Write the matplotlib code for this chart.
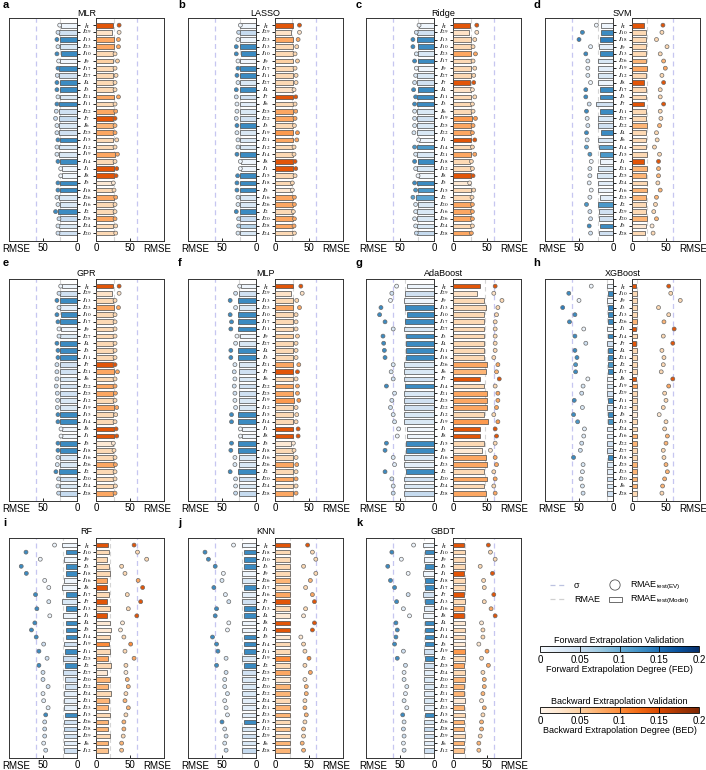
import numpy as np
import matplotlib
matplotlib.use("Agg")
import matplotlib.pyplot as plt
from matplotlib.colors import Normalize
from matplotlib.colorbar import ColorbarBase
from matplotlib.patches import Rectangle

plt.rcParams['font.family'] = ['Liberation Sans', 'DejaVu Sans']
plt.rcParams['mathtext.fontset'] = 'stix'

# ---- data: per model, feature order (top to bottom), left = forward, right = backward
mlr_feat = ['h', '29', '13', '23', '10', '9', '17', '27', '4', '3', '21', '11', '22', '7', '6',
            '25', '15', '12', '19', '14', '1', '8', '5', '18', '26', '16', '2', '28', '24', '20']
mlr_lbar = [23, 26.5, 25.5, 25.5, 24, 24.5, 26.5, 26.5, 25.5, 25.5, 24.5, 26.5, 26.5, 26.5, 26.5,
            26.5, 25.5, 26.5, 26.5, 25.5, 21.5, 21.5, 24.5, 24.5, 26.5, 25.5, 28, 25.5, 26.5, 26.5]
mlr_ldot = [25.5, 28, 29.5, 28, 29.5, 27, 28, 29, 29.5, 29.5, 28, 29.5, 30.5, 31.5, 29.5,
            29.5, 28, 29.5, 29.5, 28, 24, 24, 28, 28, 29.5, 28, 31.5, 26.5, 28, 28]
mlr_lfed = [.01, .04, .13, .03, .13, .01, .13, .04, .13, .13, .03, .13, .04, .05, .03,
            .04, .13, .03, .03, .13, .01, .01, .13, .13, .03, .03, .13, .05, .03, .04]
mlr_rbar = [25.5, 23, 26.5, 26.5, 25.5, 25.5, 25.5, 25.5, 25.5, 25.5, 26.5, 25.5, 26.5, 25.5, 25.5,
            25.5, 25.5, 25.5, 28, 25.5, 26.5, 26.5, 24.5, 25.5, 26.5, 25.5, 25.5, 25.5, 25.5, 26.5]
mlr_rdot = [34, 34, 33, 33, 28, 31.5, 28, 29.5, 28, 28, 33, 28, 29, 28, 28,
            28, 30.5, 28, 31.5, 28, 30.5, 29.5, 25.5, 26.5, 29, 28, 28, 28, 29, 29]
mlr_rbed = [.14, .03, .08, .08, .04, .05, .04, .04, .04, .04, .08, .04, .08, .14, .07,
            .08, .04, .04, .08, .04, .14, .14, .02, .04, .08, .04, .04, .08, .04, .04]

lasso_feat = ['h', '29', '23', '13', '10', '9', '17', '11', '27', '4', '7', '6', '25', '22', '3',
              '19', '21', '12', '14', '8', '1', '15', '18', '5', '16', '26', '2', '20', '28', '24']
lasso_lbar = [23, 24, 24, 24, 22, 24, 24, 24, 24, 24, 24, 24, 24, 24, 24,
              24, 24, 24, 24, 21.5, 21.5, 24, 24, 24, 24, 24, 24, 24, 24, 24]
lasso_ldot = [23, 25.5, 26.5, 29, 29, 26.5, 26.5, 28, 26.5, 29, 29, 28, 28, 29, 28,
              28, 26.5, 26.5, 28, 23, 23, 27, 28, 28, 26.5, 26.5, 29, 25.5, 25.5, 26.5]
lasso_lfed = [.01, .05, .01, .13, .13, .01, .13, .13, .03, .13, .04, .02, .03, .04, .13,
              .03, .03, .03, .13, .01, .01, .13, .13, .13, .03, .03, .13, .05, .06, .03]
lasso_rbar = [26, 23, 26, 26, 26, 26, 26, 26, 26, 27, 26, 26, 26, 27, 26,
              27, 27, 26, 26, 26, 26, 27, 24.5, 24.5, 27, 27, 26, 27, 26, 27]
lasso_rdot = [36, 36, 34, 32, 29.5, 33, 29.5, 31, 31, 28, 30.5, 29.5, 30.5, 29.5, 28.5,
              33, 32, 28, 28, 29.5, 30.5, 29.5, 25.5, 25.5, 28.5, 28.5, 27, 28.5, 28, 28.5]
lasso_rbed = [.14, .03, .08, .04, .04, .05, .04, .04, .04, .03, .14, .04, .08, .08, .04,
              .09, .08, .04, .04, .14, .14, .04, .04, .02, .08, .08, .04, .08, .08, .04]

ridge_feat = ['h', '29', '13', '10', '23', '17', '9', '27', '7', '4', '11', '3', '6', '19', '25',
              '22', '1', '14', '21', '18', '12', '8', '5', '15', '2', '20', '16', '26', '24', '28']
ridge_lbar = [22, 24.5, 24.5, 23.5, 23.5, 23.5, 23.5, 24.5, 24.5, 23.5, 24.5, 24.5, 24.5, 24.5, 24.5,
              24.5, 22, 24.5, 24.5, 23.5, 24.5, 22, 24.5, 23.5, 26, 23.5, 24.5, 24.5, 24.5, 24.5]
ridge_ldot = [22, 26, 31, 31, 26, 28.5, 26, 27, 28.5, 30, 27, 28.5, 28.5, 28.5, 28.5,
              29.5, 22.5, 28.5, 27, 28.5, 27, 23.5, 28.5, 27, 31, 27, 27, 28.5, 27, 26]
ridge_lfed = [.01, .04, .13, .13, .03, .13, .01, .03, .04, .13, .13, .13, .03, .04, .03,
              .03, .01, .12, .03, .13, .03, .01, .13, .12, .11, .03, .03, .03, .03, .05]
ridge_rbar = [25.5, 23, 26, 26, 26, 26, 26, 26, 25.5, 27, 27, 26, 26, 28, 26,
              27, 27, 27, 27, 25.5, 27, 26, 24.5, 27, 26, 27, 27, 26, 27, 26]
ridge_rdot = [35, 35, 32, 29.5, 33, 29.5, 32, 30.5, 30.5, 28.5, 32, 28.5, 29.5, 33, 29.5,
              28.5, 32, 28.5, 32, 27, 28.5, 29.5, 24.5, 30.5, 28, 28.5, 28.5, 28.5, 28.5, 27]
ridge_rbed = [.14, .03, .04, .04, .08, .04, .04, .04, .14, .03, .04, .04, .04, .09, .08,
              .08, .14, .04, .08, .04, .04, .14, .02, .04, .04, .08, .08, .08, .04, .08]

svm_feat = ['h', '10', '18', '9', '13', '26', '19', '12', '8', '17', '3', '7', '11', '27', '22',
            '4', '6', '14', '15', '1', '21', '25', '24', '16', '23', '2', '29', '20', '5', '28']
svm_lbar = [17, 17, 18.5, 20.5, 18.5, 22, 22, 22, 22, 18.5, 18.5, 24.5, 18.5, 22, 22,
            17, 22, 20.5, 18.5, 19.5, 22, 23.5, 22, 22, 19.5, 22, 20.5, 20.5, 18.5, 20.5]
svm_ldot = [24.5, 45, 50, 33, 40, 37, 37, 37, 33, 40, 40, 35, 39, 38, 37,
            39, 38, 39, 34, 32, 34, 34, 35, 32, 34, 39, 34, 33, 35, 33]
svm_lfed = [.01, .13, .14, .02, .13, .03, .02, .03, .01, .13, .13, .04, .13, .03, .04,
            .13, .03, .11, .12, .01, .03, .03, .02, .01, .02, .12, .04, .04, .13, .04]
svm_rbar = [17, 21, 21, 21, 21, 21, 22, 21, 17, 21, 21, 17, 21, 21, 22,
            21, 21, 21, 22, 17, 22, 21, 22, 22, 21, 21, 21, 22, 21, 19.5]
svm_rdot = [45.5, 44, 36, 51.5, 41.5, 46.5, 49, 44, 46.5, 41.5, 41.5, 46.5, 41.5, 42.5, 40.5,
            36, 37, 33, 40.5, 39, 39, 39, 38, 41.5, 36, 34.5, 32, 36, 29.5, 31]
svm_rbed = [.14, .04, .04, .04, .04, .07, .08, .04, .14, .04, .04, .14, .04, .04, .07,
            .04, .04, .04, .04, .14, .07, .07, .04, .07, .07, .04, .04, .07, .02, .04]

gpr_feat = ['h', '29', '13', '23', '10', '17', '9', '27', '4', '3', '11', '7', '21', '6', '22',
            '25', '12', '19', '15', '14', '8', '1', '5', '18', '16', '26', '2', '20', '24', '28']
gpr_lbar = [22.5, 25, 24.5, 24.5, 24, 24.5, 24, 24.5, 24.5, 24.5, 24.5, 25, 25, 25, 25,
            25, 24.5, 25, 24.5, 24.5, 21.5, 21.5, 24.5, 24.5, 24.5, 25, 26.5, 25, 25, 25]
gpr_ldot = [24, 26.5, 29.5, 26.5, 29.5, 28, 26.5, 26.5, 29.5, 28, 28, 29.5, 29.5, 29.5, 30.5,
            29, 28.5, 29, 28, 28, 23.5, 23.5, 28, 28, 28, 29, 31, 27, 28, 27]
gpr_lfed = [.01, .04, .13, .02, .13, .13, .01, .03, .13, .13, .13, .04, .04, .03, .04,
            .04, .03, .03, .13, .13, .01, .01, .13, .13, .03, .03, .13, .04, .03, .05]
gpr_rbar = [25.5, 23, 25.5, 26.5, 25.5, 25.5, 25.5, 25.5, 25.5, 25.5, 25.5, 25.5, 26.5, 25.5, 25.5,
            25.5, 25.5, 27, 25.5, 25.5, 26.5, 26.5, 24.5, 25.5, 25.5, 26.5, 25.5, 25.5, 25.5, 25.5]
gpr_rdot = [34, 34, 28, 33, 28, 28, 28, 28, 28, 28, 28, 28, 31.5, 28, 28,
            28.5, 28, 30.5, 29, 28, 29.5, 30.5, 25.5, 26.5, 28, 28.5, 28, 28, 28.5, 28]
gpr_rbed = [.14, .03, .04, .08, .04, .04, .04, .04, .04, .04, .04, .14, .08, .04, .08,
            .08, .04, .08, .04, .04, .14, .14, .02, .04, .04, .08, .04, .04, .04, .08]

mlp_feat = ['h', '29', '13', '23', '10', '17', '11', '9', '27', '4', '3', '21', '7', '6', '22',
            '25', '19', '12', '15', '14', '1', '8', '5', '18', '16', '26', '2', '20', '24', '28']
mlp_lbar = [22, 25, 26, 25, 26, 26, 26, 24, 25, 26, 26, 25, 25, 25, 25,
            25, 25, 25, 26, 26, 21, 21, 26, 26, 25, 25, 27, 25, 25, 25]
mlp_ldot = [24, 30, 38, 30, 38, 36, 37, 28, 30, 37, 37, 31, 32, 31, 32,
            31, 31, 30, 36, 36, 23, 23, 36, 37, 31, 31, 38, 30, 30, 30]
mlp_lfed = [.01, .04, .13, .03, .13, .13, .13, .01, .03, .13, .13, .03, .04, .03, .04,
            .04, .03, .03, .13, .13, .01, .01, .13, .13, .03, .03, .13, .04, .03, .05]
mlp_rbar = [26, 23, 26, 27, 26, 26, 26, 26, 26, 26, 26, 27, 26, 26, 27,
            27, 28, 26, 26, 26, 27, 27, 24, 26, 26, 27, 26, 26, 26, 26]
mlp_rdot = [38, 40, 32, 36, 31, 31, 31, 33, 31, 31, 31, 35, 33, 31, 33,
            33, 35, 31, 32, 31, 34, 34, 27, 28, 31, 32, 31, 31, 31, 31]
mlp_rbed = [.14, .03, .04, .08, .04, .04, .04, .05, .04, .04, .04, .08, .14, .04, .08,
            .08, .09, .04, .04, .04, .14, .14, .02, .04, .04, .08, .04, .08, .04, .08]

ada_feat = ['h', '29', '9', '13', '10', '17', '27', '3', '4', '11', '18', '26', '6', '7', '14',
            '21', '25', '22', '12', '19', '1', '8', '15', '5', '16', '23', '2', '20', '24', '28']
ada_lbar = [40, 43, 44, 42, 40, 42, 44, 41, 41, 41, 41, 44, 44, 44, 42,
            44, 44, 44, 44, 44, 40, 40, 41, 41, 44, 44, 41, 44, 44, 44]
ada_ldot = [55, 62, 64, 78, 80, 72, 60, 75, 74, 73, 72, 60, 63, 60, 70,
            58, 62, 64, 60, 58, 52, 54, 70, 72, 60, 58, 72, 62, 60, 60]
ada_lfed = [.01, .04, .01, .13, .13, .13, .03, .13, .13, .13, .13, .03, .03, .04, .13,
            .03, .04, .04, .03, .03, .01, .01, .13, .13, .03, .02, .13, .04, .03, .05]
ada_rbar = [40, 35, 45, 48, 46, 46, 46, 46, 46, 46, 45, 50, 48, 40, 46,
            50, 50, 50, 46, 52, 40, 40, 46, 42, 48, 50, 46, 50, 46, 48]
ada_rdot = [62, 60, 72, 66, 64, 62, 62, 62, 62, 62, 60, 66, 64, 68, 62,
            66, 66, 64, 60, 66, 62, 64, 62, 55, 62, 64, 60, 62, 60, 62]
ada_rbed = [.14, .03, .04, .04, .04, .04, .04, .04, .04, .04, .04, .08, .07, .14, .04,
            .08, .08, .08, .04, .09, .14, .14, .04, .02, .08, .08, .04, .08, .04, .08]

xgb_feat = ['h', '10', '9', '3', '13', '26', '1', '14', '7', '4', '21', '2', '17', '8', '19',
            '29', '11', '12', '5', '15', '24', '16', '22', '27', '18', '25', '23', '20', '6', '28']
xgb_lbar = [9, 7, 9, 7, 7, 7, 9, 7, 9, 7, 7, 8, 7, 9, 9,
            9, 7, 9, 7, 7, 9, 9, 9, 9, 7, 9, 9, 9, 9, 9]
xgb_ldot = [32, 65, 50, 74, 56, 64, 43, 56, 40, 56, 53, 55, 55, 37, 44,
            46, 57, 45, 58, 52, 42, 43, 46, 48, 58, 44, 45, 47, 45, 44]
xgb_lfed = [.01, .13, .01, .14, .13, .13, .01, .13, .04, .13, .13, .12, .13, .01, .03,
            .04, .13, .03, .13, .12, .02, .02, .04, .04, .13, .03, .02, .04, .03, .04]
xgb_rbar = [6.5, 7, 7, 7, 7, 7, 6.5, 7, 6.5, 7, 7, 7, 7, 6.5, 7,
            7, 7, 7, 7, 7, 7, 7, 7, 7, 7, 7, 7, 7, 7, 7]
xgb_rdot = [54, 57, 71, 39, 54, 47, 62, 46, 60, 44, 47, 46, 43, 60, 54,
            48, 50, 46, 40, 50, 48, 52, 50, 46, 47, 50, 52, 48, 45, 44]
xgb_rbed = [.14, .04, .04, .04, .04, .07, .14, .04, .14, .04, .04, .04, .04, .14, .08,
            .04, .04, .04, .02, .04, .04, .07, .07, .04, .04, .07, .07, .07, .07, .04]

rf_feat = ['h', '10', '9', '3', '18', '16', '8', '17', '7', '13', '1', '4', '5', '14', '19',
           '11', '25', '2', '27', '20', '22', '24', '21', '23', '15', '26', '28', '29', '6', '12']
rf_lbar = [21.5, 16.5, 19.5, 16.5, 16.5, 19.5, 21.5, 16.5, 21.5, 16.5, 20.5, 16.5, 16.5, 16.5, 19.5,
           18, 20.5, 18, 20.5, 18, 18, 19.5, 19.5, 19.5, 18, 19.5, 19.5, 19.5, 19.5, 19.5]
rf_ldot = [33, 75, 54, 82, 74.5, 47.5, 41.5, 61, 41.5, 59, 40, 62, 67, 60, 49,
           56, 44, 56, 50, 50, 42.5, 50, 49, 42.5, 46, 47.5, 47.5, 47.5, 49, 46]
rf_lfed = [.01, .13, .01, .13, .13, .01, .01, .13, .03, .13, .01, .13, .13, .13, .04,
           .13, .04, .13, .04, .04, .04, .02, .02, .02, .13, .04, .05, .04, .02, .04]
rf_rbar = [18, 19.5, 16.5, 19.5, 20.5, 16.5, 16.5, 19.5, 16.5, 20.5, 16.5, 20.5, 21.5, 20.5, 19.5,
           20.5, 18, 21.5, 15.7, 20.5, 18, 21.5, 19.5, 18, 20.5, 18, 18, 20.5, 18, 18]
rf_rdot = [56, 61, 74.5, 37.7, 42.6, 62, 68.6, 46, 65.7, 47.5, 60, 39, 36, 41, 51,
           42.6, 56, 44, 44, 46, 47.5, 44, 42.6, 47.5, 44, 41, 41, 40, 37.7, 37.7]
rf_rbed = [.14, .04, .04, .04, .04, .08, .14, .04, .14, .04, .14, .02, .02, .04, .10,
           .04, .08, .04, .02, .07, .07, .04, .07, .07, .04, .07, .07, .04, .07, .06]

knn_feat = ['h', '18', '10', '3', '9', '26', '17', '16', '7', '13', '4', '8', '1', '5', '14',
            '11', '19', '2', '25', '27', '20', '22', '24', '21', '23', '15', '12', '29', '6', '28']
knn_lbar = [21, 18, 18, 18, 21, 21, 18, 21, 21, 18, 18, 21, 21, 18, 18,
            18, 21, 18, 21, 21, 21, 21, 21, 21, 21, 18, 21, 21, 21, 21]
knn_ldot = [33, 75, 70, 60, 48, 50, 62, 45, 40, 58, 60, 40, 42, 64, 58,
            56, 44, 58, 44, 46, 46, 42, 46, 44, 42, 50, 46, 44, 46, 44]
knn_lfed = [.01, .13, .13, .13, .01, .03, .13, .02, .04, .13, .13, .01, .01, .13, .13,
            .13, .03, .13, .04, .03, .03, .03, .02, .02, .02, .13, .03, .04, .03, .05]
knn_rbar = [22, 22, 22, 22, 22, 22, 22, 22, 22, 22, 22, 22, 22, 22, 22,
            22, 22, 22, 22, 22, 22, 22, 22, 22, 22, 22, 22, 22, 22, 22]
knn_rdot = [48, 55, 60, 42, 60, 52, 45, 55, 58, 45, 42, 58, 55, 38, 42,
            44, 50, 44, 52, 44, 46, 46, 44, 44, 46, 44, 42, 42, 40, 42]
knn_rbed = [.14, .04, .04, .04, .04, .07, .04, .08, .14, .04, .02, .14, .14, .02, .04,
            .04, .10, .04, .08, .02, .07, .07, .04, .07, .07, .04, .06, .04, .07, .07]

gbdt_feat = ['h', '10', '9', '3', '1', '18', '17', '7', '13', '16', '8', '4', '11', '14', '5',
             '19', '2', '25', '24', '20', '22', '21', '27', '23', '15', '26', '28', '29', '6', '12']
gbdt_lbar = [16, 13, 15, 13, 16, 13, 13, 16, 13, 15, 16, 13, 13, 13, 13,
             15, 13, 15, 15, 15, 15, 15, 15, 15, 13, 15, 15, 15, 15, 15]
gbdt_ldot = [30, 62, 48, 68, 38, 64, 58, 38, 55, 45, 36, 56, 54, 56, 58,
             45, 54, 42, 44, 44, 40, 42, 44, 40, 46, 44, 45, 44, 45, 44]
gbdt_lfed = [.01, .13, .01, .13, .01, .13, .13, .04, .13, .02, .01, .13, .13, .13, .13,
             .04, .13, .04, .02, .03, .03, .02, .03, .02, .13, .03, .05, .04, .02, .04]
gbdt_rbar = [16, 17, 17, 17, 16, 17, 17, 16, 17, 16, 16, 17, 17, 17, 17,
             17, 17, 16, 17, 17, 16, 16, 17, 16, 17, 16, 16, 17, 16, 16]
gbdt_rdot = [52, 55, 62, 40, 58, 45, 46, 60, 46, 56, 62, 42, 44, 44, 38,
             50, 42, 52, 44, 46, 46, 44, 42, 46, 44, 42, 42, 40, 38, 38]
gbdt_rbed = [.14, .04, .04, .04, .14, .04, .04, .14, .04, .08, .14, .02, .04, .04, .02,
             .09, .04, .08, .04, .07, .07, .07, .02, .07, .04, .07, .07, .04, .07, .06]

titles = ['MLR', 'LASSO', 'Ridge', 'SVM', 'GPR', 'MLP', 'AdaBoost', 'XGBoost', 'RF', 'KNN', 'GBDT']
letters = list('abcdefghijk')
rmae_left = [25, 24, 24, 22, 25, 25, 43, 9, 20, 21, 15]
rmae_right = [27, 25, 26, 22, 27, 27, 47, 7, 20, 22, 17]
sigma_value = 60

panels = [
    (mlr_feat, mlr_lbar, mlr_ldot, mlr_lfed, mlr_rbar, mlr_rdot, mlr_rbed),
    (lasso_feat, lasso_lbar, lasso_ldot, lasso_lfed, lasso_rbar, lasso_rdot, lasso_rbed),
    (ridge_feat, ridge_lbar, ridge_ldot, ridge_lfed, ridge_rbar, ridge_rdot, ridge_rbed),
    (svm_feat, svm_lbar, svm_ldot, svm_lfed, svm_rbar, svm_rdot, svm_rbed),
    (gpr_feat, gpr_lbar, gpr_ldot, gpr_lfed, gpr_rbar, gpr_rdot, gpr_rbed),
    (mlp_feat, mlp_lbar, mlp_ldot, mlp_lfed, mlp_rbar, mlp_rdot, mlp_rbed),
    (ada_feat, ada_lbar, ada_ldot, ada_lfed, ada_rbar, ada_rdot, ada_rbed),
    (xgb_feat, xgb_lbar, xgb_ldot, xgb_lfed, xgb_rbar, xgb_rdot, xgb_rbed),
    (rf_feat, rf_lbar, rf_ldot, rf_lfed, rf_rbar, rf_rdot, rf_rbed),
    (knn_feat, knn_lbar, knn_ldot, knn_lfed, knn_rbar, knn_rdot, knn_rbed),
    (gbdt_feat, gbdt_lbar, gbdt_ldot, gbdt_lfed, gbdt_rbar, gbdt_rdot, gbdt_rbed),
]

# ---- layout (pixels)
W, H = 706, 770
fig = plt.figure(figsize=(W / 100, H / 100), dpi=100)
norm = Normalize(0, 0.2)

col_x = [9, 188, 366, 545]
letter_x = [3, 178, 356, 533]
row_top = [18, 279, 538]
row_h = [223, 222, 220]
letter_y = [5, 263, 523]
title_y = [13, 274, 532]
HW, GAP = 68, 19


def box(x, y, w, h):
    return [x / W, 1 - (y + h) / H, w / W, h / H]


def lab(f):
    return '$h$' if f == 'h' else '$I_{%s}$' % f


def side(ax, vals, dots, deg, cmap, rmae):
    y = np.arange(len(vals))
    c = cmap(norm(np.array(deg)))
    ax.axvline(sigma_value, color='#c6c6f0', lw=0.9, ls=(0, (4, 3)), zorder=1)
    ax.axvline(rmae, color='#d4d4d4', lw=0.8, ls=(0, (4, 3)), zorder=1)
    ax.barh(y, vals, height=0.66, color=c, edgecolor='#4a4a4a', linewidth=0.5, zorder=3)
    ax.scatter(dots, y, s=8, color=c, edgecolors='#6a6a6a', linewidths=0.5, zorder=4)
    ax.set_ylim(len(vals) + 0.1, -1.0)
    ax.set_yticks(y)
    ax.set_yticklabels([])
    ax.set_xticks([0, 50])
    ax.tick_params(axis='x', direction='in', length=2, width=0.6, labelsize=7, pad=1.5)
    ax.tick_params(axis='y', direction='out', length=2.5, width=0.6)
    for s in ax.spines.values():
        s.set_linewidth(0.7)
        s.set_color('#333333')
    ax.text(90, -0.012, 'RMSE', transform=ax.get_xaxis_transform(),
            ha='center', va='top', fontsize=7)


for i, (feat, lbar, ldot, lfed, rbar, rdot, rbed) in enumerate(panels):
    r, cc = divmod(i, 4)
    x0, top, hh = col_x[cc], row_top[r], row_h[r]
    axl = fig.add_axes(box(x0, top, HW, hh))
    axr = fig.add_axes(box(x0 + HW + GAP, top, HW, hh))
    side(axl, lbar, ldot, lfed, plt.cm.Blues, rmae_left[i])
    axl.set_xlim(100, 0)
    axl.yaxis.tick_right()
    side(axr, rbar, rdot, rbed, plt.cm.Oranges, rmae_right[i])
    axr.set_xlim(0, 100)
    for k, f in enumerate(feat):
        axl.text(1 + GAP / 2 / HW, k, lab(f), transform=axl.get_yaxis_transform(),
                 ha='center', va='center', fontsize=5.3)
    cx = x0 + HW + GAP / 2
    fig.text(cx / W, 1 - title_y[r] / H, titles[i], ha='center', va='center', fontsize=6.5)
    fig.text(letter_x[cc] / W, 1 - letter_y[r] / H, letters[i], ha='left', va='center',
             fontsize=8, fontweight='bold')

# ---- legend
lg = fig.add_axes(box(540, 570, 166, 40))
lg.set_xlim(540, 706)
lg.set_ylim(610, 570)
lg.axis('off')
lg.plot([550, 566], [585, 585], color='#bcc2e0', lw=0.9, ls=(0, (4, 3)))
lg.text(574, 585, 'σ', ha='left', va='center', fontsize=6.5)
lg.plot([550, 566], [599, 599], color='#d0d0d0', lw=0.9, ls=(0, (4, 3)))
lg.text(574, 599, 'RMAE', ha='left', va='center', fontsize=6.5)
lg.scatter([615], [585], s=55, facecolor='none', edgecolor='#555555', linewidth=0.6)
lg.text(630, 585, r'RMAE$_{\mathregular{test(EV)}}$', ha='left', va='center', fontsize=6.5)
lg.add_patch(Rectangle((609, 597), 13, 4.5, facecolor='white', edgecolor='#555555', lw=0.6))
lg.text(630, 599, r'RMAE$_{\mathregular{test(Model)}}$', ha='left', va='center', fontsize=6.5)

# ---- colorbars
for cmap, y0, ttl, xl in [
        (plt.cm.Blues, 646, 'Forward Extrapolation Validation', 'Forward Extrapolation Degree (FED)'),
        (plt.cm.Oranges, 707, 'Backward Extrapolation Validation', 'Backward Extrapolation Degree (BED)')]:
    cax = fig.add_axes(box(540, y0, 159, 6))
    cb = ColorbarBase(cax, cmap=cmap, norm=norm, orientation='horizontal',
                      ticks=[0, 0.05, 0.1, 0.15, 0.2])
    cb.ax.set_xticklabels(['0', '0.05', '0.1', '0.15', '0.2'])
    cb.ax.tick_params(length=0, labelsize=7, pad=2)
    for v in [0.05, 0.1, 0.15]:
        cax.axvline(v, color='black', lw=0.6)
    cb.outline.set_linewidth(0.6)
    cax.set_title(ttl, fontsize=6.5, pad=2)
    cax.set_xlabel(xl, fontsize=6.5, labelpad=0)

fig.savefig('out.png', dpi=100)
